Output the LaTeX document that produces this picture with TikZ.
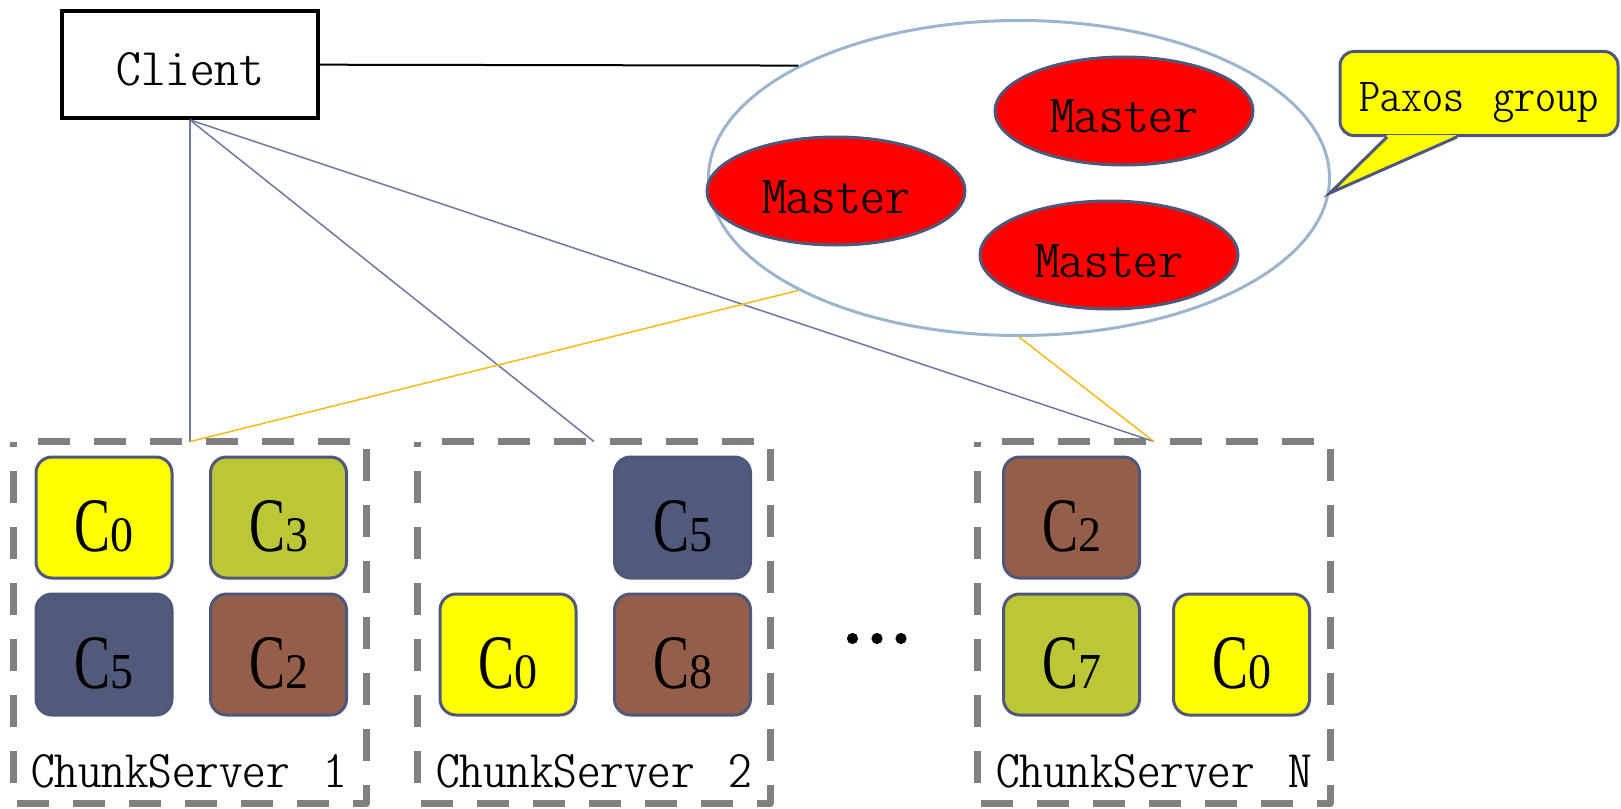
\documentclass[tikz,border=0pt]{standalone}
\usepackage{graphicx}
\usepackage{fontspec}
\newfontfamily\chunkfont{Liberation Serif}
\usetikzlibrary{shapes.geometric}

\definecolor{chunkyellow}{HTML}{FFFF00}
\definecolor{chunkolive}{HTML}{BCC737}
\definecolor{chunkslate}{HTML}{525A7B}
\definecolor{chunkbrown}{HTML}{955E4B}
\definecolor{edgeslate}{HTML}{4F5879}
\definecolor{groupring}{HTML}{9BB5CC}
\definecolor{linkblue}{HTML}{6C789F}
\definecolor{linkorange}{HTML}{F7BA14}
\definecolor{dashgray}{HTML}{808080}

% narrow typewriter lettering, sized to a given width and height
\newcommand\monolabel[3]{\resizebox{#1}{#2}{\fontseries{lc}\ttfamily #3}}
% word gap of one typewriter cell
\newcommand\cellgap{\hspace{0.5em}}
% chunk name: big C followed by a smaller digit on the same baseline
\newcommand\chunkname[1]{\resizebox{18pt}{25.5pt}{\chunkfont C}\resizebox{11.5pt}{16.5pt}{\chunkfont #1}}

\begin{document}
\begin{tikzpicture}[x=0.5pt,y=-0.5pt,
  clientbox/.style={draw=black, fill=white, line width=1.75pt,
    minimum width=128pt, minimum height=53.5pt, inner sep=0pt,
    text height=21.3pt, text depth=0pt},
  group/.style={ellipse, draw=groupring, line width=1.5pt,
    minimum width=310.5pt, minimum height=157.5pt, inner sep=0pt},
  master/.style={ellipse, draw=edgeslate, fill=red, line width=1.5pt,
    minimum width=129pt, minimum height=54pt, inner sep=0pt,
    text height=22pt, text depth=0pt},
  callout/.style={draw=edgeslate, fill=chunkyellow, line width=1.5pt,
    rounded corners=7pt, minimum width=139pt, minimum height=42pt,
    inner sep=0pt, text height=18.5pt, text depth=0pt},
  server/.style={minimum width=176pt, minimum height=180.5pt, inner sep=0pt},
  serveredge/.style={draw=dashgray, line width=3.5pt, line join=round,
    dash pattern=on 16pt off 12pt, dash phase=16pt},
  servername/.style={anchor=base, inner sep=0pt},
  chunk/.style={draw=edgeslate, line width=1.5pt, rounded corners=8pt,
    minimum width=68pt, minimum height=60.5pt, inner sep=0pt,
    text height=33.5pt, text depth=0pt},
  clientlink/.style={draw=linkblue, line width=0.75pt},
  masterlink/.style={draw=linkorange, line width=0.75pt}]

\useasboundingbox (0,0) rectangle (1621,808);

% client and the master group
\node (client) [clientbox] at (190,64.7) {\monolabel{73.5pt}{16.5pt}{Client}};
\node (group) [group] at (1019,178) {};
\node (m1) [master] at (1124,111) {\monolabel{74pt}{16.5pt}{Master}};
\node (m2) [master] at (836,191) {\monolabel{74pt}{16.5pt}{Master}};
\node (m3) [master] at (1109,255) {\monolabel{74pt}{16.5pt}{Master}};

% callout naming the group
\node (paxos) [callout] at (1479,93.5) {\monolabel{119.5pt}{14.5pt}{Paxos\cellgap group}};
\coordinate (tip) at ([xshift=-0.5pt,yshift=-7.5pt]group.east);
\fill[chunkyellow] ([xshift=-46pt,yshift=1pt]paxos.south) -- (tip)
  -- ([xshift=-11pt,yshift=1pt]paxos.south) -- cycle;
\draw[edgeslate, line width=1.5pt, line join=miter]
  ([xshift=-46pt]paxos.south) -- (tip) -- ([xshift=-11pt]paxos.south);

% chunk servers: dashed frames traced clockwise from the top left corner
\node (cs1) [server] at (190,622.5) {};
\node (cs2) [server] at (594,622.5) {};
\node (csn) [server] at (1154,622.5) {};
\foreach \s in {cs1,cs2,csn}
  \draw[serveredge] (\s.north west) -- (\s.north east) -- (\s.south east)
    -- (\s.south west) -- cycle;

\node (n1) [servername] at (189,787) {\monolabel{157.5pt}{16.5pt}{ChunkServer\cellgap 1}};
\node (n2) [servername] at (594,787) {\monolabel{157.5pt}{16.5pt}{ChunkServer\cellgap 2}};
\node (nn) [servername] at (1154,787) {\monolabel{157.5pt}{16.5pt}{ChunkServer\cellgap N}};

% chunks on server 1
\node (a0) [chunk, fill=chunkyellow] at (104,517.5) {\chunkname{0}};
\node (a3) [chunk, fill=chunkolive] at (278.5,517.5) {\chunkname{3}};
\node (a5) [chunk, fill=chunkslate] at (104,654.5) {\chunkname{5}};
\node (a2) [chunk, fill=chunkbrown] at (278.5,654.5) {\chunkname{2}};
% chunks on server 2
\node (b5) [chunk, fill=chunkslate] at (682.5,517.5) {\chunkname{5}};
\node (b0) [chunk, fill=chunkyellow] at (508,654.5) {\chunkname{0}};
\node (b8) [chunk, fill=chunkbrown] at (682.5,654.5) {\chunkname{8}};
% chunks on server N
\node (c2) [chunk, fill=chunkbrown] at (1071.5,517.5) {\chunkname{2}};
\node (c7) [chunk, fill=chunkolive] at (1071.5,654.5) {\chunkname{7}};
\node (c0) [chunk, fill=chunkyellow] at (1241.5,654.5) {\chunkname{0}};

% ellipsis between server 2 and server N
\fill (852.5,638.5) circle (2.8pt);
\fill (877,638.5) circle (2.8pt);
\fill (901,638.5) circle (2.8pt);

% connectors
\draw[line width=1pt] (client.east) -- (group.north west);
\draw[clientlink] (client.south) -- (cs1.north);
\draw[clientlink] (client.south) -- (cs2.north);
\draw[clientlink] (client.south) -- (csn.north);
\draw[masterlink] (cs1.north) -- (group.south west);
\draw[masterlink] (csn.north) -- (group.south);

\end{tikzpicture}
\end{document}
